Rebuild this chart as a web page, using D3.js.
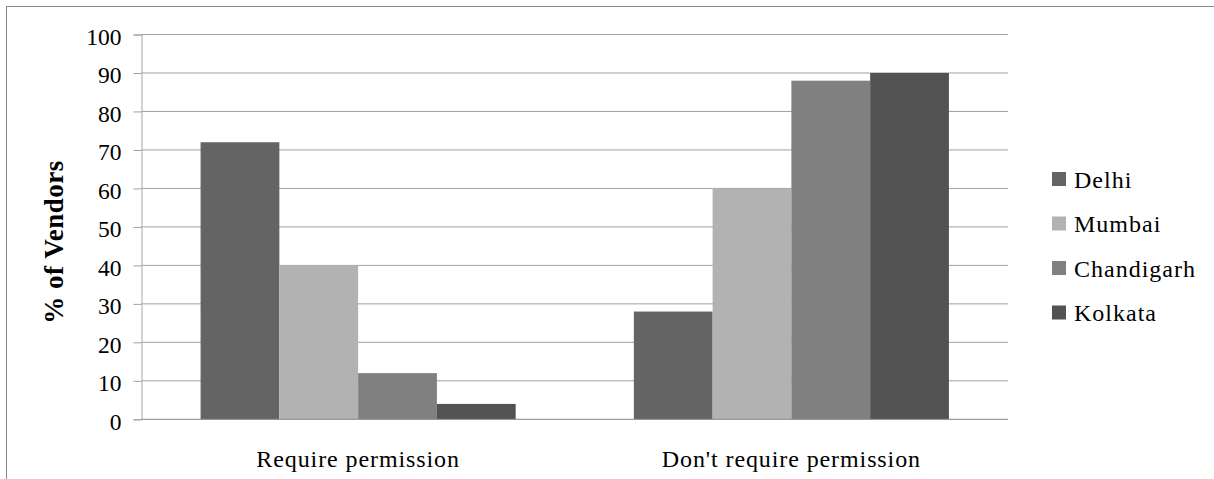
<!DOCTYPE html>
<html>
<head>
<meta charset="utf-8">
<script src="https://cdn.jsdelivr.net/npm/d3@7"></script>
<style>
  html, body { margin: 0; padding: 0; background: #fff; }
  svg { display: block; font-family: "Liberation Serif", "Times New Roman", serif; }
</style>
</head>
<body>
<svg id="chart" width="1214" height="479"></svg>
<script>
// Share of street vendors by permission requirement, per city
const categories = ["Require permission", "Don't require permission"];
const cities = ["Delhi", "Mumbai", "Chandigarh", "Kolkata"];
const delhi = [72, 28];
const mumbai = [40, 60];
const chandigarh = [12, 88];
const kolkata = [4, 90];
const yTicks = [0, 10, 20, 30, 40, 50, 60, 70, 80, 90, 100];
const cityColors = ["#646464", "#b2b2b2", "#808080", "#525252"];

const seriesValues = [delhi, mumbai, chandigarh, kolkata];

const svg = d3.select("#chart");
const W = 1214, H = 479;
const serif = "Liberation Serif";

// outer chart frame
svg.append("rect")
  .attr("x", 6.5).attr("y", 6.5)
  .attr("width", W + 10).attr("height", H + 10)
  .attr("fill", "none").attr("stroke", "#888").attr("stroke-width", 1);

const plot = { left: 141.5, right: 1008, top: 34.5, bottom: 419.3 };

const y = d3.scaleLinear().domain([0, 100]).range([plot.bottom, plot.top]);
const x0 = d3.scaleBand().domain(categories)
  .range([plot.left, plot.right]).paddingInner(0).paddingOuter(0);
// gap between groups is 1.5 bar widths (split on both sides)
const groupShare = 4 / 5.5;
const x1 = d3.scaleBand().domain(cities)
  .range([0, x0.bandwidth() * groupShare]).padding(0);

// horizontal gridlines
svg.append("g")
  .selectAll("line")
  .data(yTicks.filter(t => t > 0))
  .join("line")
  .attr("x1", plot.left).attr("x2", plot.right)
  .attr("y1", d => y(d)).attr("y2", d => y(d))
  .attr("stroke", "#a0a0a0").attr("stroke-width", 1);

// y axis
const yAxis = d3.axisLeft(y).tickValues(yTicks).tickSize(8).tickPadding(12);
const gy = svg.append("g")
  .attr("transform", `translate(${plot.left},0)`)
  .call(yAxis);
gy.attr("font-family", serif);
gy.select(".domain").attr("stroke", "#a6a6a6");
gy.selectAll(".tick line").attr("stroke", "#a0a0a0");
gy.selectAll(".tick text")
  .attr("fill", "#000")
  .style("font-family", serif)
  .style("font-size", "23.5px")
  .attr("dy", "0.42em");

// bars
const groups = svg.append("g")
  .selectAll("g")
  .data(categories)
  .join("g")
  .attr("transform", c => `translate(${x0(c) + x0.bandwidth() * (1 - groupShare) / 2},0)`);

groups.selectAll("rect")
  .data((c, i) => cities.map((city, k) => ({ city, k, value: seriesValues[k][i] })))
  .join("rect")
  .attr("x", d => x1(d.city))
  .attr("width", x1.bandwidth())
  .attr("y", d => y(d.value))
  .attr("height", d => y(0) - y(d.value))
  .attr("fill", d => cityColors[d.k]);

// x axis baseline
svg.append("line")
  .attr("x1", plot.left).attr("x2", plot.right)
  .attr("y1", y(0)).attr("y2", y(0))
  .attr("stroke", "#868686");

// category labels
svg.append("g")
  .selectAll("text")
  .data(categories)
  .join("text")
  .attr("x", c => x0(c) + x0.bandwidth() / 2)
  .attr("y", 467)
  .attr("text-anchor", "middle")
  .style("font-family", serif)
  .style("font-size", "24px")
  .style("letter-spacing", "0.9px")
  .text(c => c);

// y axis title
svg.append("text")
  .attr("transform", "translate(63,242) rotate(-90)")
  .attr("text-anchor", "middle")
  .style("font-family", serif)
  .style("font-size", "27px")
  .style("font-weight", "bold")
  .style("letter-spacing", "0.5px")
  .text("% of Vendors");

// legend
const legend = svg.append("g")
  .selectAll("g")
  .data(cities)
  .join("g")
  .attr("transform", (d, i) => `translate(1052,${172 + i * 44.5})`);
legend.append("rect")
  .attr("width", 14).attr("height", 14)
  .attr("fill", (d, i) => cityColors[i]);
legend.append("text")
  .attr("x", 22).attr("y", 7).attr("dy", "0.36em")
  .style("font-family", serif)
  .style("font-size", "24px")
  .style("letter-spacing", "1px")
  .text(d => d);
</script>
</body>
</html>
